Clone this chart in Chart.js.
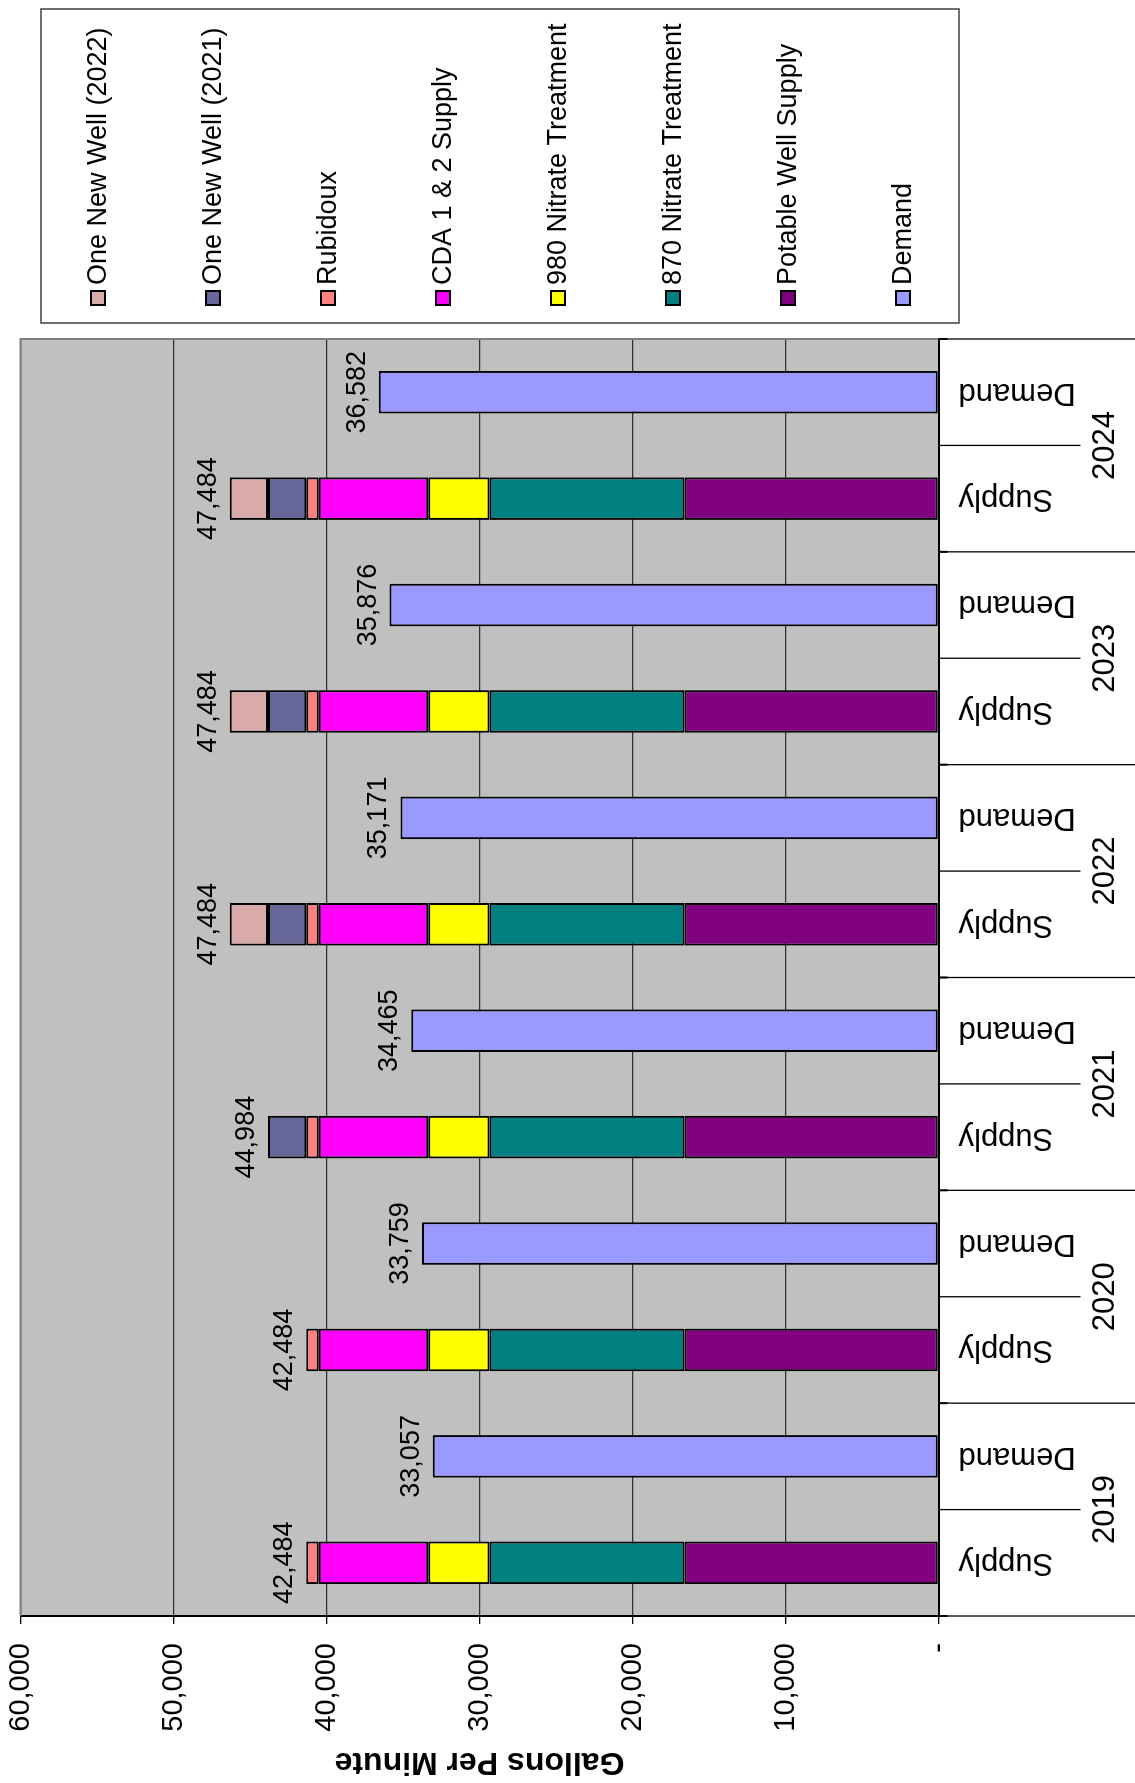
<!DOCTYPE html>
<html>
<head>
<meta charset="utf-8">
<script src="https://cdn.jsdelivr.net/npm/chart.js@4"></script>
<style>
  html, body { margin: 0; padding: 0; background: #fff; width: 1135px; height: 1783px; overflow: hidden; }
  /* chart is drawn landscape and turned a quarter left, like the printed page */
  #wrap { position: absolute; left: 0; top: 0; width: 1783px; height: 1135px;
          transform-origin: 0 0; transform: translate(0, 1783px) rotate(-90deg); }
</style>
</head>
<body>
<div id="wrap"><canvas id="supplyChart" width="1783" height="1135"></canvas></div>
<script>
// Supply vs demand, gallons per minute
const years = ['2019', '2020', '2021', '2022', '2023', '2024'];
const barTypes = ['Supply', 'Demand'];

const potableWell = [16600, 16600, 16600, 16600, 16600, 16600];
const nitrate870 = [12750, 12750, 12750, 12750, 12750, 12750];
const nitrate980 = [4000, 4000, 4000, 4000, 4000, 4000];
const cdaSupply = [7150, 7150, 7150, 7150, 7150, 7150];
const rubidoux = [820, 820, 820, 820, 820, 820];
const newWell2021 = [null, null, 2500, 2500, 2500, 2500];
const newWell2022 = [null, null, null, 2500, 2500, 2500];
const demand = [33057, 33759, 34465, 35171, 35876, 36582];
const supplyLabels = [42484, 42484, 44984, 47484, 47484, 47484];

const valueTicks = [0, 10000, 20000, 30000, 40000, 50000, 60000];

const FONT = "'Liberation Sans', Arial, sans-serif";
Chart.defaults.font.family = FONT;
Chart.defaults.color = '#000';

// one Supply and one Demand bar per year
const labels = [];
years.forEach(() => barTypes.forEach(t => labels.push(t)));
const onSupply = arr => arr.flatMap(v => [v, null]);
const onDemand = arr => arr.flatMap(v => [null, v]);

const fmt = v => v.toLocaleString('en-US');

const series = [
  { label: 'Potable Well Supply', data: onSupply(potableWell), backgroundColor: '#800080' },
  { label: '870 Nitrate Treatment', data: onSupply(nitrate870), backgroundColor: '#008080' },
  { label: '980 Nitrate Treatment', data: onSupply(nitrate980), backgroundColor: '#FFFF00' },
  { label: 'CDA 1 & 2 Supply', data: onSupply(cdaSupply), backgroundColor: '#FF00FF' },
  { label: 'Rubidoux', data: onSupply(rubidoux), backgroundColor: '#FF8080' },
  { label: 'One New Well (2021)', data: onSupply(newWell2021), backgroundColor: '#666699' },
  { label: 'One New Well (2022)', data: onSupply(newWell2022), backgroundColor: '#D9AAAA' },
  { label: 'Demand', data: onDemand(demand), backgroundColor: '#9999FF' }
].map(d => ({ ...d, borderColor: '#000', borderWidth: 2, borderSkipped: false,
              categoryPercentage: 1, barPercentage: 0.4 }));

// grey plot background + frame
const plotFrame = {
  id: 'plotFrame',
  beforeDraw(chart) {
    const { ctx, chartArea: a } = chart;
    ctx.save();
    ctx.fillStyle = '#C0C0C0';
    ctx.fillRect(a.left, a.top, a.right - a.left, a.bottom - a.top);
    ctx.restore();
  },
  afterDatasetsDraw(chart) {
    const { ctx, chartArea: a } = chart;
    ctx.save();
    ctx.strokeStyle = '#808080';
    ctx.lineWidth = 2;
    ctx.beginPath();
    ctx.moveTo(a.left, a.top);
    ctx.lineTo(a.right, a.top);
    ctx.lineTo(a.right, a.bottom);
    ctx.stroke();
    ctx.restore();
  }
};

// value labels above the bars
const barValues = {
  id: 'barValues',
  afterDatasetsDraw(chart) {
    const { ctx, scales: { x, y } } = chart;
    ctx.save();
    ctx.font = '27px ' + FONT;
    ctx.fillStyle = '#000';
    ctx.textAlign = 'center';
    ctx.textBaseline = 'alphabetic';
    years.forEach((yr, i) => {
      const si = i * 2, di = i * 2 + 1;
      let top = 0;
      series.slice(0, 7).forEach(s => { top += s.data[si] || 0; });
      ctx.fillText(fmt(supplyLabels[i]), x.getPixelForValue(si), y.getPixelForValue(top) - 14);
      ctx.fillText(fmt(demand[i]), x.getPixelForValue(di), y.getPixelForValue(demand[i]) - 14);
    });
    ctx.restore();
  }
};

// two-level category axis: separators and year captions
const yearAxis = {
  id: 'yearAxis',
  afterDraw(chart) {
    const { ctx, scales: { x } } = chart;
    const step = (x.right - x.left) / labels.length;
    const base = x.top;
    ctx.save();
    ctx.strokeStyle = '#000';
    for (let k = 0; k <= labels.length; k++) {
      const px = x.left + k * step;
      ctx.lineWidth = 1.3;
      ctx.beginPath();
      ctx.moveTo(px, base);
      ctx.lineTo(px, k % 2 === 0 ? chart.height : base + 142);
      ctx.stroke();
      if (k % 2 === 0) {
        ctx.lineWidth = 2;
        ctx.beginPath();
        ctx.moveTo(px, base);
        ctx.lineTo(px, base + 9);
        ctx.stroke();
      }
    }
    ctx.font = '31px ' + FONT;
    ctx.fillStyle = '#000';
    ctx.textAlign = 'center';
    ctx.textBaseline = 'middle';
    years.forEach((yr, i) => {
      ctx.fillText(yr, x.left + (i * 2 + 1) * step, 1105);
    });
    ctx.restore();
  }
};

// boxed legend on the right, newest well first
const sideLegend = {
  id: 'sideLegend',
  afterDraw(chart) {
    const { ctx } = chart;
    const order = series.slice(0, 7).reverse().concat(series.slice(7));
    ctx.save();
    ctx.strokeStyle = '#404040';
    ctx.lineWidth = 1.5;
    ctx.strokeRect(1460, 41, 314, 918);
    ctx.font = '27px ' + FONT;
    ctx.textAlign = 'left';
    ctx.textBaseline = 'middle';
    order.forEach((s, i) => {
      const cy = 98 + i * 115;
      ctx.fillStyle = s.backgroundColor;
      ctx.fillRect(1478, cy - 7, 14, 14);
      ctx.lineWidth = 2;
      ctx.strokeStyle = '#000';
      ctx.strokeRect(1478, cy - 7, 14, 14);
      ctx.fillStyle = '#000';
      ctx.fillText(s.label, 1498, cy + 1);
    });
    ctx.restore();
  }
};

new Chart(document.getElementById('supplyChart').getContext('2d'), {
  type: 'bar',
  data: { labels, datasets: series },
  options: {
    responsive: false,
    animation: false,
    devicePixelRatio: 1,
    layout: { padding: { left: 0, top: 20.5, right: 339, bottom: 0 } },
    plugins: { legend: { display: false }, tooltip: { enabled: false } },
    scales: {
      x: {
        stacked: true,
        grid: { display: false, drawTicks: false },
        border: { display: true, color: '#000', width: 2 },
        ticks: { autoSkip: false, minRotation: 90, maxRotation: 90, padding: 20, font: { size: 31 } },
        afterFit: s => { s.height = 196.5; s.paddingLeft = 0; s.paddingRight = 0; }
      },
      y: {
        stacked: true,
        min: 0,
        max: 60000,
        afterBuildTicks: s => { s.ticks = valueTicks.map(v => ({ value: v })); },
        grid: { color: '#303030', lineWidth: 1.3, tickLength: 8, tickColor: '#000' },
        border: { display: true, color: '#000', width: 2 },
        ticks: { padding: 19, font: { size: 29 }, callback: v => v === 0 ? '-' : fmt(v) },
        title: { display: true, text: 'Gallons Per Minute', font: { size: 32, weight: 'bold' }, padding: { top: 2, bottom: 0 } },
        afterFit: s => { s.width = 167; s.paddingTop = 0; s.paddingBottom = 0; }
      }
    }
  },
  plugins: [plotFrame, barValues, yearAxis, sideLegend]
});
</script>
</body>
</html>
